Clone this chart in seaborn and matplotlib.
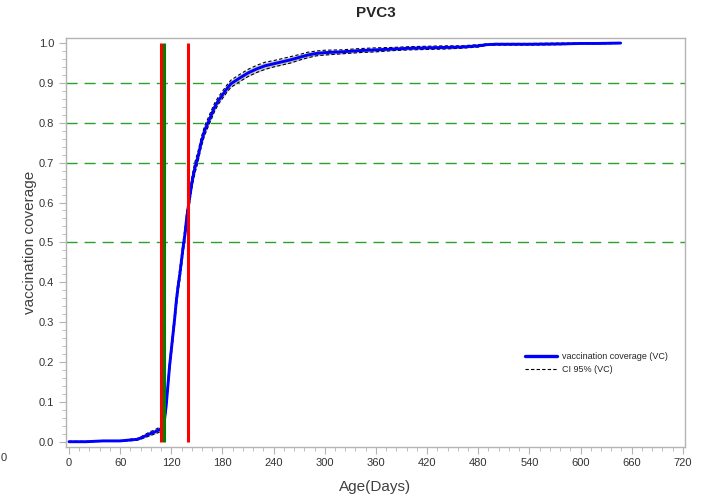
import matplotlib
matplotlib.use("Agg")
import matplotlib.pyplot as plt
from matplotlib.ticker import MultipleLocator
from matplotlib.lines import Line2D
import seaborn as sns
import pandas as pd

# Age in days and cumulative PVC3 vaccination coverage with its 95% CI
days = [0, 10, 20, 30, 40, 50, 60, 65, 70, 75, 80, 85, 90, 95, 100, 105, 108,
        110, 112, 114, 116, 118, 120, 122, 124, 126, 128, 130, 132, 134, 136,
        138, 140, 142, 145, 148, 151, 155, 159, 163, 167, 171, 175, 180, 185,
        190, 195, 200, 210, 220, 230, 240, 250, 260, 270, 280, 290, 300, 320,
        340, 360, 380, 400, 420, 440, 460, 480, 490, 500, 540, 580, 600, 620,
        647]
coverage = [0.000, 0.000, 0.000, 0.001, 0.002, 0.002, 0.002, 0.003, 0.004,
            0.005, 0.006, 0.010, 0.015, 0.020, 0.024, 0.029, 0.033, 0.040,
            0.055, 0.090, 0.140, 0.190, 0.230, 0.270, 0.310, 0.355, 0.390,
            0.420, 0.455, 0.490, 0.520, 0.560, 0.590, 0.620, 0.660, 0.690,
            0.712, 0.750, 0.780, 0.800, 0.820, 0.840, 0.855, 0.870, 0.885,
            0.898, 0.905, 0.912, 0.925, 0.935, 0.943, 0.948, 0.953, 0.958,
            0.964, 0.970, 0.974, 0.976, 0.978, 0.981, 0.983, 0.985, 0.987,
            0.988, 0.989, 0.990, 0.993, 0.996, 0.997, 0.997, 0.998, 0.999,
            0.999, 1.000]
ci_lower = [0.000, 0.000, 0.000, 0.000, 0.001, 0.001, 0.001, 0.002, 0.002,
            0.003, 0.004, 0.007, 0.011, 0.015, 0.019, 0.023, 0.027, 0.033,
            0.047, 0.080, 0.128, 0.178, 0.217, 0.256, 0.296, 0.340, 0.375,
            0.405, 0.440, 0.475, 0.505, 0.545, 0.576, 0.606, 0.646, 0.676,
            0.699, 0.738, 0.768, 0.789, 0.809, 0.830, 0.846, 0.861, 0.876,
            0.889, 0.896, 0.903, 0.916, 0.926, 0.934, 0.940, 0.945, 0.950,
            0.957, 0.963, 0.968, 0.970, 0.973, 0.976, 0.978, 0.981, 0.983,
            0.984, 0.985, 0.987, 0.990, 0.994, 0.995, 0.995, 0.996, 0.998,
            0.998, 0.999]
ci_upper = [0.001, 0.001, 0.001, 0.002, 0.003, 0.003, 0.003, 0.004, 0.006,
            0.007, 0.008, 0.013, 0.019, 0.025, 0.029, 0.035, 0.039, 0.047,
            0.063, 0.100, 0.152, 0.202, 0.243, 0.284, 0.324, 0.370, 0.405,
            0.435, 0.470, 0.505, 0.535, 0.575, 0.604, 0.634, 0.674, 0.704,
            0.725, 0.762, 0.792, 0.811, 0.831, 0.850, 0.864, 0.879, 0.894,
            0.907, 0.914, 0.921, 0.934, 0.944, 0.952, 0.956, 0.961, 0.966,
            0.971, 0.977, 0.980, 0.982, 0.983, 0.986, 0.988, 0.989, 0.991,
            0.992, 0.993, 0.993, 0.996, 0.998, 0.999, 0.999, 1.000, 1.000,
            1.000, 1.000]

# Reference lines
coverage_targets = [0.5, 0.7, 0.8, 0.9]
red_markers = [108, 140]
green_markers = [112]

x_ticks = list(range(0, 721, 60))
y_ticks = [round(0.1 * i, 1) for i in range(11)]

df = pd.DataFrame({"day": days, "vc": coverage, "lo": ci_lower, "hi": ci_upper})

sns.set_style("white")
plt.rcParams["font.family"] = ["Liberation Sans", "DejaVu Sans"]

fig = plt.figure(figsize=(7.15, 5.01), dpi=100)
ax = fig.add_axes([0.0923, 0.1084, 0.8657, 0.8152])

for t in coverage_targets:
    ax.axhline(t, color="#2ca02c", lw=1.0, dashes=(8, 5), zorder=1)

# light band between the confidence limits
ax.fill_between(df["day"], df["lo"], df["hi"], color="#c8c8c8", lw=0, zorder=1.5)

ci_style = dict(color="black", lw=0.8, linestyle=(0, (3, 2)),
                estimator=None, zorder=2)
sns.lineplot(data=df, x="day", y="lo", ax=ax, **ci_style)
sns.lineplot(data=df, x="day", y="hi", ax=ax, **ci_style)
sns.lineplot(data=df, x="day", y="vc", ax=ax, color="#0000ff", lw=2.1,
             estimator=None, zorder=3)

ax.vlines(red_markers, 0, 1, color="#ff0000", lw=2.2, zorder=4)
ax.vlines(green_markers, 0, 1, color="#008000", lw=2.2, zorder=4)

ax.set_xlim(-3.5, 722.5)
ax.set_ylim(-0.0125, 1.012)
ax.set_xticks(x_ticks)
ax.set_yticks(y_ticks)
ax.set_yticklabels([f"{v:.1f}" for v in y_ticks])
ax.xaxis.set_minor_locator(MultipleLocator(12))
ax.yaxis.set_minor_locator(MultipleLocator(0.02))

for side in ax.spines.values():
    side.set_color("#b4b4b4")
    side.set_linewidth(1.0)

ax.tick_params(axis="both", which="major", direction="out", length=5,
               width=0.8, color="#b4b4b4", labelsize=8, labelcolor="#333333")
ax.tick_params(axis="both", which="minor", direction="out", length=3,
               width=0.6, color="#b4b4b4")
ax.tick_params(axis="x", bottom=True, which="both")
ax.tick_params(axis="y", left=True, which="both")

ax.set_xlabel("Age(Days)", fontsize=11, color="#404040", labelpad=8)
ax.set_ylabel("vaccination coverage", fontsize=11, color="#404040", labelpad=1)
ax.set_title("PVC3", fontsize=11, fontweight="bold", pad=15)

handles = [Line2D([], [], color="#0000ff", lw=2.4),
           Line2D([], [], color="black", lw=0.8, linestyle=(0, (3, 2)))]
ax.legend(handles, ["vaccination coverage (VC)", "CI 95% (VC)"],
          loc="upper left", bbox_to_anchor=(0.735, 0.243), frameon=False,
          fontsize=6.5, handlelength=3.5, handletextpad=0.6,
          labelspacing=0.45, borderpad=0)

fig.text(0.001, 1 - 458 / 501, "0", fontsize=8, color="#333333", va="center")

fig.savefig("out.png", dpi=100)
